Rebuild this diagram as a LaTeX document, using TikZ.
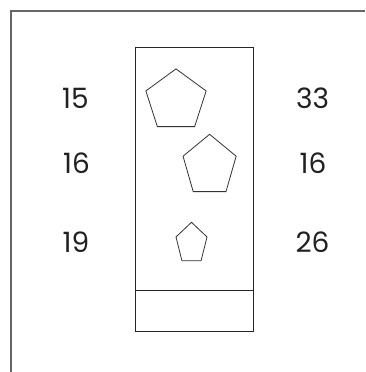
\documentclass[tikz,border=0pt]{standalone}
\usepackage{fontspec}
\setmainfont{Poppins}
\begin{document}
\begin{tikzpicture}[x=1pt,y=-1pt,
  frameline/.style={draw=black!60,line width=1.3pt},
  boxline/.style={draw=black!85,line width=1pt},
  pentline/.style={draw=black!80,line width=0.8pt},
  num/.style={font=\fontsize{28}{28}\selectfont,text=black!87,inner sep=0pt,anchor=center}]
\useasboundingbox (0,0) rectangle (365,372);
\coordinate (ftl) at (11,11);
\coordinate (fbl) at (11,372);
\coordinate (ftr) at (365,11);
\draw[frameline] (fbl) -- (ftl) -- (ftr);
\node[boxline,draw,minimum width=118pt,minimum height=284pt,inner sep=0pt] (box) at (194,189) {};
\coordinate (dl) at (135,290);
\coordinate (dr) at (253,290);
\draw[boxline] (dl) -- (dr);
% pentagons
\draw[pentline,shift={(176,100.8)},x=1pt,y=1pt]
  ({31.7*cos(90)},{31.9*sin(90)}) -- ({31.7*cos(162)},{31.9*sin(162)}) -- ({31.7*cos(234)},{31.9*sin(234)}) -- ({31.7*cos(306)},{31.9*sin(306)}) -- ({31.7*cos(18)},{31.9*sin(18)}) -- cycle;
\draw[pentline,shift={(209.6,166)},x=1pt,y=1pt]
  ({27.9*cos(90)},{31.7*sin(90)}) -- ({27.9*cos(162)},{31.7*sin(162)}) -- ({27.9*cos(234)},{31.7*sin(234)}) -- ({27.9*cos(306)},{31.7*sin(306)}) -- ({27.9*cos(18)},{31.7*sin(18)}) -- cycle;
\draw[pentline,shift={(191.5,243.5)},x=1pt,y=1pt]
  ({16.3*cos(90)},{21.2*sin(90)}) -- ({16.3*cos(162)},{21.2*sin(162)}) -- ({16.3*cos(234)},{21.2*sin(234)}) -- ({16.3*cos(306)},{21.2*sin(306)}) -- ({16.3*cos(18)},{21.2*sin(18)}) -- cycle;
\node[num] (l1) at (75.5,98) {15};
\node[num] (r1) at (312.5,98) {33};
\node[num] (l2) at (76.5,162.8) {16};
\node[num] (r2) at (313,162.8) {16};
\node[num] (l3) at (76,241.7) {19};
\node[num] (r3) at (312.5,241.7) {26};
\end{tikzpicture}
\end{document}
